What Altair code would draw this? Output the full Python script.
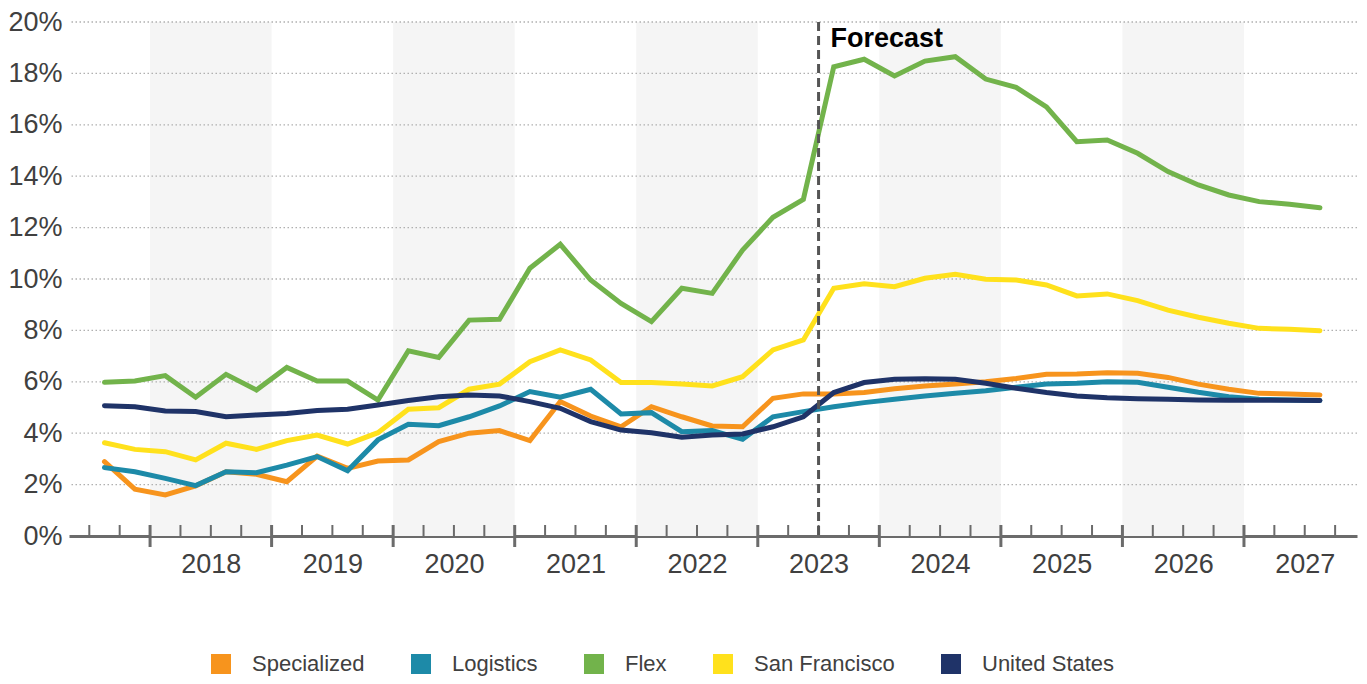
import altair as alt
import pandas as pd

FONT = "Liberation Sans, Arial, Helvetica, sans-serif"

# ---- data -------------------------------------------------------------
series_names = ["Specialized", "Logistics", "Flex", "San Francisco", "United States"]
series_colors = ["#F7941D", "#1D8AA8", "#72B34B", "#FFE11C", "#1F3368"]

# quarterly, 2017 Q3 .. 2027 Q3
quarters = []
yy, qq = 2017, 3
for _ in range(41):
    quarters.append((yy, qq))
    qq += 1
    if qq > 4:
        qq, yy = 1, yy + 1

specialized = [2.89, 1.82, 1.60, 1.95, 2.50, 2.40, 2.11, 3.11, 2.63, 2.92,
               2.96, 3.67, 4.00, 4.10, 3.71, 5.23, 4.67, 4.25, 5.03, 4.64,
               4.28, 4.25, 5.36, 5.53, 5.53, 5.58, 5.73, 5.84, 5.91, 6.00,
               6.13, 6.29, 6.30, 6.35, 6.33, 6.17, 5.91, 5.71, 5.55, 5.53, 5.49]
logistics = [2.66, 2.50, 2.24, 1.96, 2.50, 2.46, 2.76, 3.09, 2.54, 3.74,
             4.35, 4.29, 4.64, 5.06, 5.62, 5.40, 5.71, 4.75, 4.80, 4.06,
             4.10, 3.76, 4.64, 4.84, 5.03, 5.19, 5.32, 5.45, 5.55, 5.65,
             5.79, 5.91, 5.94, 6.00, 5.98, 5.79, 5.59, 5.42, 5.32, 5.29, 5.27]
flex = [5.98, 6.03, 6.24, 5.40, 6.29, 5.68, 6.56, 6.03, 6.03, 5.29,
        7.21, 6.95, 8.40, 8.43, 10.42, 11.35, 9.96, 9.05, 8.34, 9.64,
        9.44, 11.13, 12.40, 13.10, 18.26, 18.55, 17.90, 18.48, 18.65, 17.78,
        17.46, 16.70, 15.34, 15.41, 14.89, 14.18, 13.66, 13.27, 13.01, 12.91, 12.77]
san_francisco = [3.63, 3.37, 3.28, 2.96, 3.61, 3.37, 3.71, 3.93, 3.58, 4.02,
                 4.93, 4.99, 5.71, 5.91, 6.78, 7.24, 6.85, 5.97, 5.97, 5.91,
                 5.84, 6.20, 7.24, 7.63, 9.64, 9.81, 9.70, 10.03, 10.18, 9.99,
                 9.96, 9.77, 9.34, 9.42, 9.16, 8.79, 8.51, 8.28, 8.08, 8.04, 7.99]
united_states = [5.07, 5.03, 4.86, 4.84, 4.64, 4.71, 4.77, 4.88, 4.93, 5.10,
                 5.27, 5.42, 5.49, 5.45, 5.23, 4.97, 4.45, 4.12, 4.02, 3.84,
                 3.93, 3.97, 4.25, 4.64, 5.58, 5.97, 6.10, 6.12, 6.10, 5.94,
                 5.75, 5.58, 5.45, 5.38, 5.34, 5.32, 5.29, 5.28, 5.28, 5.28, 5.27]

year_labels = list(range(2018, 2028))
band_years = [2018, 2020, 2022, 2024, 2026]
y_tick_values = list(range(0, 21, 2))
forecast_start = 2023.5
forecast_label = "Forecast"

# ---- tables -----------------------------------------------------------
all_series = [specialized, logistics, flex, san_francisco, united_states]
rows = []
for k, (name, vals) in enumerate(zip(series_names, all_series)):
    for (y_, q_), v in zip(quarters, vals):
        rows.append({"series": name, "k": k, "t": y_ + (q_ - 0.5) / 4, "rate": v})
df = pd.DataFrame(rows)

bands = pd.DataFrame({"x0": band_years, "x1": [b + 1 for b in band_years],
                      "y0": [0] * len(band_years), "y1": [20] * len(band_years)})
grid = pd.DataFrame({"v": [v for v in y_tick_values if v > 0]})
minor = pd.DataFrame({"t": [2017.5 + 0.25 * i for i in range(42)]})
minor = minor[minor["t"] % 1 != 0]
major = pd.DataFrame({"t": year_labels})
fc = pd.DataFrame({"t": [forecast_start], "top": [20], "label": [forecast_label]})

W, H = 1288, 514
xscale = alt.Scale(domain=[2017.333, 2027.93], nice=False, zero=False)
yscale = alt.Scale(domain=[0, 20], nice=False, zero=True)

x_axis = alt.Axis(values=[y + 0.5 for y in year_labels], labelExpr="'' + floor(datum.value)",
                  ticks=False, grid=False, domain=True, domainColor="#6b6b6b", domainWidth=3,
                  labelFontSize=27, labelColor="#404040", labelFont=FONT, labelPadding=15,
                  title=None, labelFlush=False, labelOverlap=False)
y_axis = alt.Axis(values=y_tick_values, labelExpr="datum.value + '%'", ticks=False, grid=False,
                  domain=False, labelFontSize=27, labelColor="#404040", labelFont=FONT,
                  labelPadding=7, title=None)

band_layer = alt.Chart(bands).mark_rect(color="#f5f5f5").encode(
    x=alt.X("x0:Q", scale=xscale, axis=x_axis), x2="x1:Q",
    y=alt.Y("y0:Q", scale=yscale, axis=y_axis), y2="y1:Q")

grid_layer = alt.Chart(grid).mark_rule(color="#b0b0b0", strokeDash=[1.5, 2.5], strokeWidth=1.3).encode(
    y=alt.Y("v:Q", scale=yscale, axis=y_axis))

minor_layer = alt.Chart(minor).mark_rule(color="#6b6b6b", strokeWidth=2).encode(
    x=alt.X("t:Q", scale=xscale, axis=x_axis), y=alt.value(H - 11), y2=alt.value(H))
major_layer = alt.Chart(major).mark_rule(color="#6b6b6b", strokeWidth=3).encode(
    x=alt.X("t:Q", scale=xscale, axis=x_axis), y=alt.value(H - 11), y2=alt.value(H + 11))

lines = alt.Chart(df).mark_line(strokeWidth=5, strokeCap="round").encode(
    x=alt.X("t:Q", scale=xscale, axis=x_axis),
    y=alt.Y("rate:Q", scale=yscale, axis=y_axis),
    color=alt.Color("series:N", sort=series_names,
                    scale=alt.Scale(domain=series_names, range=series_colors),
                    legend=alt.Legend(orient="none", legendX=141, legendY=631,
                                      direction="horizontal", title=None,
                                      symbolType="square", symbolSize=100, symbolStrokeWidth=10,
                                      labelFontSize=22, labelFont=FONT, labelColor="#404040",
                                      columnPadding=31, labelOffset=20)),
    order=alt.Order("t:Q"))

fc_rule = alt.Chart(fc).mark_rule(color="#555555", strokeDash=[9, 5], strokeWidth=3).encode(
    x=alt.X("t:Q", scale=xscale, axis=x_axis))
fc_text = alt.Chart(fc).mark_text(align="left", baseline="alphabetic", dx=12, dy=25,
                                  font=FONT, fontSize=27, fontWeight="bold", color="#000000").encode(
    x=alt.X("t:Q", scale=xscale, axis=x_axis),
    y=alt.Y("top:Q", scale=yscale, axis=y_axis),
    text="label:N")

chart = alt.layer(band_layer, grid_layer, minor_layer, major_layer, lines, fc_rule, fc_text).properties(
    width=W, height=H,
    padding={"left": 61, "top": 14, "right": 2, "bottom": 140},
    autosize=alt.AutoSizeParams(type="none"),
).configure_view(stroke=None)

chart.save("out.html", embed_options={"renderer": "svg", "actions": False})
